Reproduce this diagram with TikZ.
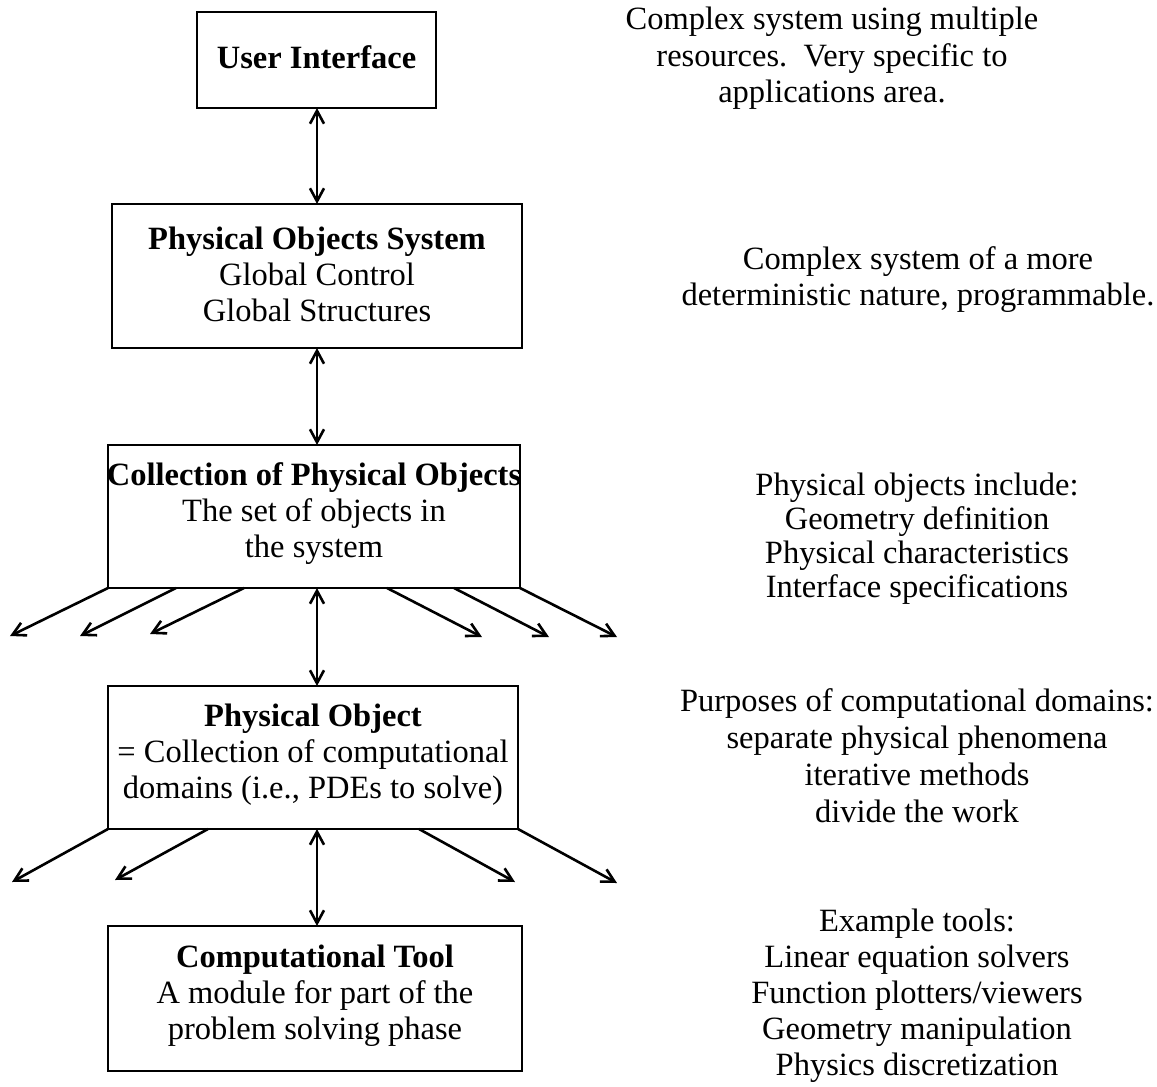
\documentclass[tikz,border=0pt]{standalone}
\usepackage{fontspec}
\setmainfont{Liberation Serif}
\usetikzlibrary{arrows.meta}
\begin{document}
\begin{tikzpicture}[x=1pt,y=-1pt,
  every node/.style={inner sep=0pt,outer sep=0pt},
  txt/.style={align=center,font=\fontsize{32.5}{36}\selectfont},
  boxnode/.style={draw,line width=2.8pt,txt,anchor=center},
  tip/.tip={Straight Barb[length=13pt,width=14pt,line width=2.6pt]},
  conn/.style={line width=2.6pt,-tip},
  dconn/.style={line width=2.6pt,tip-tip}]
\useasboundingbox (0,0) rectangle (1157,1087);
\fill[white] (0,0) rectangle (1157,1087);
% boxes
\node[boxnode,minimum width=239pt,minimum height=96pt] (b1) at (316.5,60) {};
\node[txt] (t1) at (316.5,57) {\textbf{User Interface}};
\node[boxnode,minimum width=410pt,minimum height=144pt] (b2) at (317,276) {};
\node[txt] (t2) at (317,274) {\textbf{Physical Objects System}\\Global Control\\Global Structures};
\node[boxnode,minimum width=412pt,minimum height=143pt] (b3) at (314,516.5) {};
\node[txt] (t3) at (314,514) {\textbf{Collection of Physical Objects}\\The set of objects in\\the system};
\node[boxnode,minimum width=410pt,minimum height=143pt] (b4) at (313,757.5) {};
\node[txt] (t4) at (313,755) {\textbf{Physical Object}\\= Collection of computational\\domains (i.e., PDEs to solve)};
\node[boxnode,minimum width=414pt,minimum height=145pt] (b5) at (315,998.5) {};
\node[txt] (t5) at (315,996) {\textbf{Computational Tool}\\A module for part of the\\problem solving phase};
% right texts
\node[txt,font=\fontsize{32.5}{36.5}\selectfont] (r1) at (832,58.5) {Complex system using multiple\\resources.\ \ Very specific to\\applications area.};
\node[txt] (r2) at (918,280) {Complex system of a more\\deterministic nature, programmable.};
\node[txt,font=\fontsize{32.5}{34}\selectfont] (r3) at (917,539) {Physical objects include:\\Geometry definition\\Physical characteristics\\Interface specifications};
\node[txt,font=\fontsize{32.5}{37}\selectfont] (r4) at (917,756) {Purposes of computational domains:\\separate physical phenomena\\iterative methods\\divide the work};
\node[txt] (r5) at (917,996) {Example tools:\\Linear equation solvers\\Function plotters/viewers\\Geometry manipulation\\Physics discretization};
% vertical connectors
\draw[dconn] (b1.south -| 317,0) -- (b2.north -| 317,0);
\draw[dconn] (b2.south -| 317,0) -- (b3.north -| 317,0);
\draw[dconn] (b3.south -| 317,0) -- (b4.north -| 317,0);
\draw[dconn] (b4.south -| 317,0) -- (b5.north -| 317,0);
% fan-out from b3
\coordinate (s31) at (b3.south west);
\coordinate (s32) at ([xshift=68pt]b3.south west);
\coordinate (s33) at ([xshift=136pt]b3.south west);
\coordinate (s34) at ([xshift=-133pt]b3.south east);
\coordinate (s35) at ([xshift=-66pt]b3.south east);
\coordinate (s36) at (b3.south east);
\coordinate (e31) at (10,636);
\coordinate (e32) at (80,636);
\coordinate (e33) at (150,634);
\coordinate (e34) at (482,637);
\coordinate (e35) at (549,637);
\coordinate (e36) at (617,637);
\foreach \i in {1,...,6} {\draw[conn] (s3\i) -- (e3\i);}
% fan-out from b4
\coordinate (s41) at (b4.south west);
\coordinate (s42) at ([xshift=100pt]b4.south west);
\coordinate (s43) at ([xshift=-99pt]b4.south east);
\coordinate (s44) at (b4.south east);
\coordinate (e41) at (12,882);
\coordinate (e42) at (115,880);
\coordinate (e43) at (515,882);
\coordinate (e44) at (617,883);
\foreach \i in {1,...,4} {\draw[conn] (s4\i) -- (e4\i);}
\end{tikzpicture}
\end{document}
